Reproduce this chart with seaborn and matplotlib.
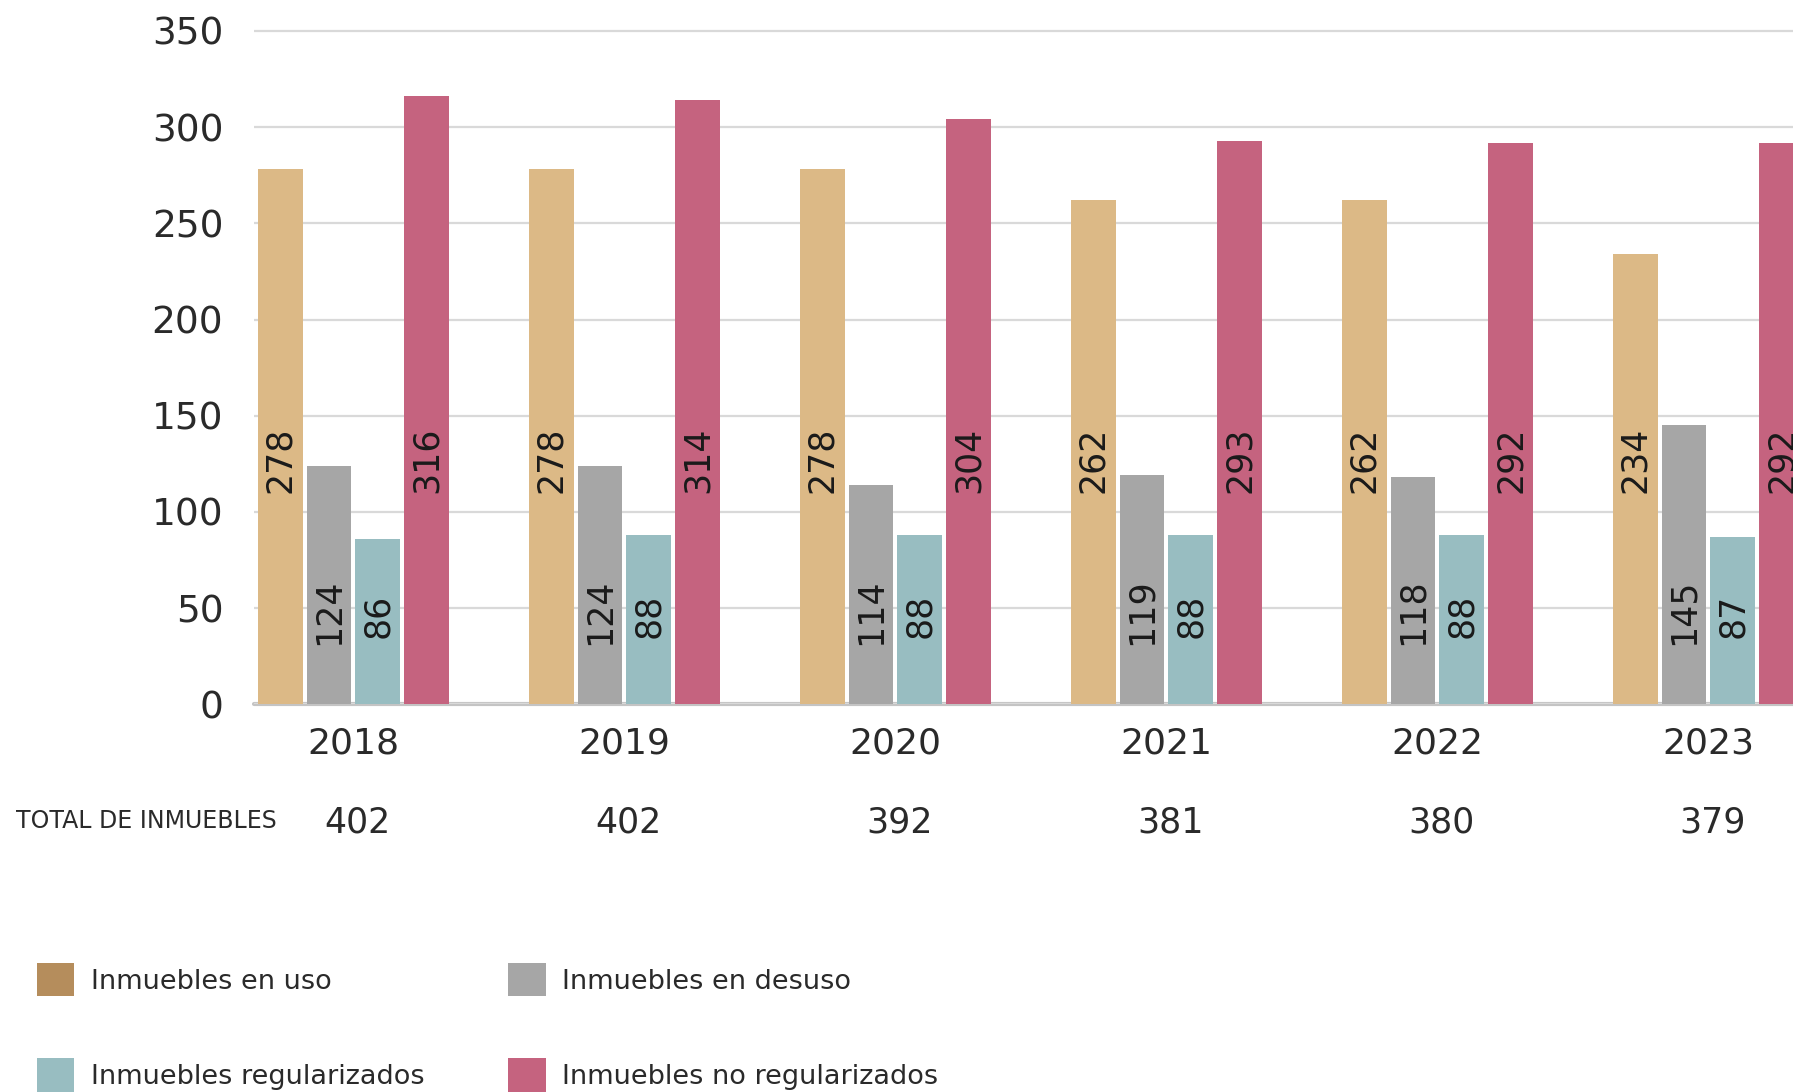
import pandas as pd
import seaborn as sns
import matplotlib.pyplot as plt
import matplotlib.transforms as mtransforms
from matplotlib.patches import Patch

anios = ['2018', '2019', '2020', '2021', '2022', '2023']
en_uso = [278, 278, 278, 262, 262, 234]
en_desuso = [124, 124, 114, 119, 118, 145]
regularizados = [86, 88, 88, 88, 88, 87]
no_regularizados = [316, 314, 304, 293, 292, 292]
totales = [402, 402, 392, 381, 380, 379]

categorias = ['Inmuebles en uso', 'Inmuebles en desuso',
              'Inmuebles regularizados', 'Inmuebles no regularizados']

colores_barras = ['#dcb986', '#a6a6a6', '#98bdc1', '#c5637f']
colores_leyenda = ['#b58d5c', '#a6a6a6', '#98bdc1', '#c5637f']
# altura (en unidades del eje) donde va la etiqueta girada de cada serie
altura_etiqueta = [127, 48, 46, 127]

df = pd.DataFrame({
    'Año': anios * 4,
    'Categoria': sum([[c] * len(anios) for c in categorias], []),
    'Valor': en_uso + en_desuso + regularizados + no_regularizados,
})

sns.set_style('white')
plt.rcParams['font.family'] = ['DejaVu Sans']
texto = '#2a2a2a'

fig = plt.figure(figsize=(17.93, 10.92), dpi=100)
ax = fig.add_axes([0.1416, 0.355, 1 - 0.1416, 0.9805 - 0.355])

sns.barplot(data=df, x='Año', y='Valor', hue='Categoria', hue_order=categorias,
            palette=colores_barras, saturation=1, width=0.72, gap=0.08,
            linewidth=0, legend=False, ax=ax)

ax.set_xlim(-0.367, 5.312)
ax.set_ylim(0, 355)
ax.set_yticks(range(0, 351, 50))
ax.yaxis.grid(True, color='#d9d9d9', linewidth=1.6)
ax.set_axisbelow(True)
ax.axhline(0, color='#c4c4c4', linewidth=3, zorder=0.5, clip_on=False)
for s in ax.spines.values():
    s.set_visible(False)
ax.set_xlabel('')
ax.set_ylabel('')
ax.tick_params(axis='y', length=0, pad=22, labelsize=27, labelcolor=texto)
ax.tick_params(axis='x', length=0, pad=16, labelsize=26, labelcolor=texto)

# etiquetas dentro de las barras (la ultima queda cortada por el borde, como en el original)
for cont, h in zip(ax.containers, altura_etiqueta):
    for barra, val in zip(cont, cont.datavalues):
        x = barra.get_x() + barra.get_width() / 2
        ax.text(x, h, f'{int(val)}', rotation=90, ha='center', va='center',
                fontsize=25, color='#1a1a1a', clip_on=True)

# fila de totales
trans = mtransforms.blended_transform_factory(ax.transData, fig.transFigure)
for i, t in enumerate(totales):
    ax.text(i + 0.015, 0.247, str(t), transform=trans, ha='center', va='center',
            fontsize=25, color=texto)
fig.text(0.009, 0.248, 'TOTAL DE INMUEBLES', ha='left', va='center',
         fontsize=17, color=texto)

# leyenda
orden = [0, 2, 1, 3]
handles = [Patch(facecolor=colores_leyenda[i], edgecolor='none') for i in orden]
labels = [categorias[i] for i in orden]
fig.legend(handles, labels, loc='upper left', bbox_to_anchor=(0.0204, 0.118),
           ncol=2, frameon=False, fontsize=19.5, handlelength=1.4, handleheight=1.5,
           handletextpad=0.6, columnspacing=3.1, labelspacing=2.3,
           borderpad=0, borderaxespad=0, labelcolor=texto)

fig.savefig('out.png', dpi=100)
